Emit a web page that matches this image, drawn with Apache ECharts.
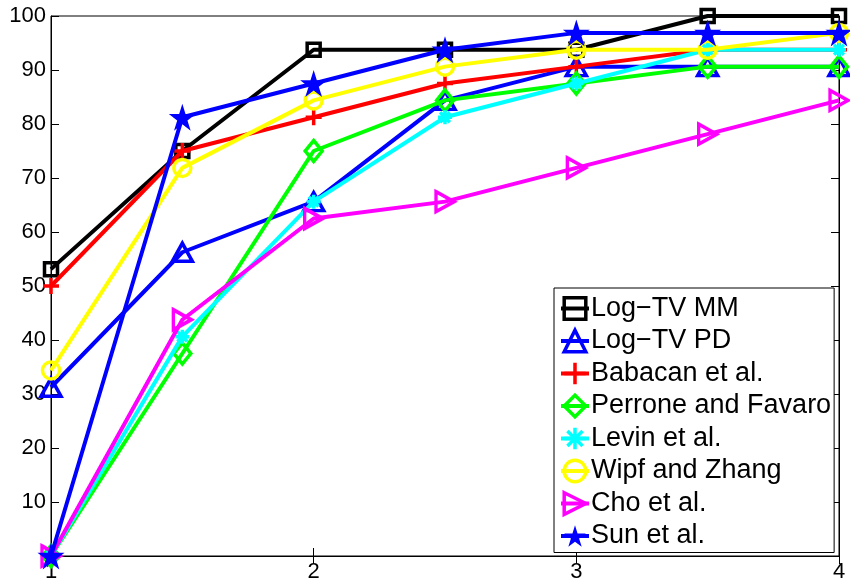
<!DOCTYPE html>
<html><head><meta charset="utf-8">
<script src="https://cdn.jsdelivr.net/npm/echarts@6/dist/echarts.min.js"></script>
<style>html,body{margin:0;padding:0;background:#fff}#c{width:850px;height:585px}</style>
</head><body><div id="c"></div>
<script>
const xValues = [1, 1.5, 2, 2.5, 3, 3.5, 4];
const xTicks = [1, 2, 3, 4];
const seriesNames = ['Log\u2212TV MM','Log\u2212TV PD','Babacan et al.','Perrone and Favaro','Levin et al.','Wipf and Zhang','Cho et al.','Sun et al.'];
const logTvMM   = [53.125, 75, 93.75, 93.75, 93.75, 100, 100];
const logTvPD   = [31.25, 56.25, 65.625, 84.375, 90.625, 90.625, 90.625];
const babacan   = [50, 75, 81.25, 87.5, 90.625, 93.75, 93.75];
const perrone   = [0, 37.5, 75, 84.375, 87.5, 90.625, 90.625];
const levin     = [0, 40.625, 65.625, 81.25, 87.5, 93.75, 93.75];
const wipf      = [34.375, 71.875, 84.375, 90.625, 93.75, 93.75, 96.875];
const cho       = [0, 43.75, 62.5, 65.625, 71.875, 78.125, 84.375];
const sun       = [0, 81.25, 87.5, 93.75, 96.875, 96.875, 96.875];
const allValues = [logTvMM, logTvPD, babacan, perrone, levin, wipf, cho, sun];

const colors = ['#000000','#0000ff','#ff0000','#00ff00','#00ffff','#ffff00','#ff00ff','#0000ff'];
const STAR = 'path://M0,-1L0.223,-0.307L0.951,-0.309L0.361,0.117L0.588,0.809L0,0.38L-0.588,0.809L-0.361,0.117L-0.951,-0.309L-0.223,-0.307Z';
const symbols = [
  {s:'rect', size:13, fill:false},
  {s:'triangle', size:[20,18], fill:false},
  {s:'path://M0,-1L0,1M-1,0L1,0', size:16, fill:false},
  {s:'diamond', size:[17,21], fill:false},
  {s:'path://M0,-1L0,1M-1,0L1,0M-0.7,-0.7L0.7,0.7M-0.7,0.7L0.7,-0.7', size:14, fill:false},
  {s:'circle', size:17, fill:false},
  {s:'path://M-1,-1L1,0L-1,1Z', size:[18,20], fill:false},
  {s:STAR, size:27, fill:true}
];

const series = seriesNames.map((name, i) => ({
  name: name,
  type: 'line',
  data: xValues.map((x, j) => [x, allValues[i][j]]),
  clip: false,
  symbol: symbols[i].s,
  symbolSize: symbols[i].size,
  showAllSymbol: true,
  lineStyle: {color: colors[i], width: 4},
  itemStyle: {color: symbols[i].fill ? colors[i] : 'rgba(255,255,255,0)', borderColor: colors[i], borderWidth: symbols[i].fill ? 0 : 3.5},
  emphasis: {disabled: true},
  z: 2 + i
}));

const legendData = seriesNames.map((name, i) => ({
  name: name,
  itemStyle: {borderWidth: symbols[i].fill ? 0 : 3.5, borderColor: colors[i], color: symbols[i].fill ? colors[i] : 'rgba(255,255,255,0)'},
  lineStyle: {width: 4, color: colors[i]}
}));

const chart = echarts.init(document.getElementById('c'));
const font = '"Liberation Sans", Arial, Helvetica, sans-serif';
chart.setOption({
  animation: false,
  backgroundColor: '#fff',
  textStyle: {fontFamily: font},
  grid: {left: 51, right: 11, top: 16, bottom: 29, show: true, borderColor: '#000', borderWidth: 1, backgroundColor: 'transparent'},
  xAxis: [{
    type: 'value', min: 1, max: 4, interval: 1, position: 'bottom',
    axisLine: {lineStyle: {color: '#000', width: 1}},
    axisTick: {inside: true, length: 8, lineStyle: {color: '#000'}},
    axisLabel: {color: '#000', fontSize: 22, fontFamily: font, margin: 5},
    splitLine: {show: false}
  }, {
    type: 'value', min: 1, max: 4, interval: 1, position: 'top',
    axisLine: {lineStyle: {color: '#000', width: 1}},
    axisTick: {inside: true, length: 8, lineStyle: {color: '#000'}},
    axisLabel: {show: false}, splitLine: {show: false}
  }],
  yAxis: [{
    type: 'value', min: 0, max: 100, interval: 10, position: 'left',
    axisLine: {show: true, lineStyle: {color: '#000', width: 1}},
    axisTick: {show: true, inside: true, length: 8, lineStyle: {color: '#000'}},
    axisLabel: {color: '#000', fontSize: 22, fontFamily: font, margin: 5, formatter: v => v === 0 ? '' : String(v)},
    splitLine: {show: false}
  }, {
    type: 'value', min: 0, max: 100, interval: 10, position: 'right',
    axisLine: {show: true, lineStyle: {color: '#000', width: 1}},
    axisTick: {show: true, inside: true, length: 8, lineStyle: {color: '#000'}},
    axisLabel: {show: false}, splitLine: {show: false}
  }],
  legend: {
    orient: 'vertical', left: 554, top: 288,
    backgroundColor: '#fff', borderColor: '#000', borderWidth: 1,
    padding: [7, 3, 3, 5], itemGap: 5.5, itemWidth: 28, itemHeight: 27,
    lineStyle: {width: 4},
    textStyle: {color: '#000', fontSize: 27, fontFamily: font, padding: [0, 0, 0, -3], lineHeight: 27},
    selectedMode: false,
    data: legendData
  },
  series: series
});
</script></body></html>
